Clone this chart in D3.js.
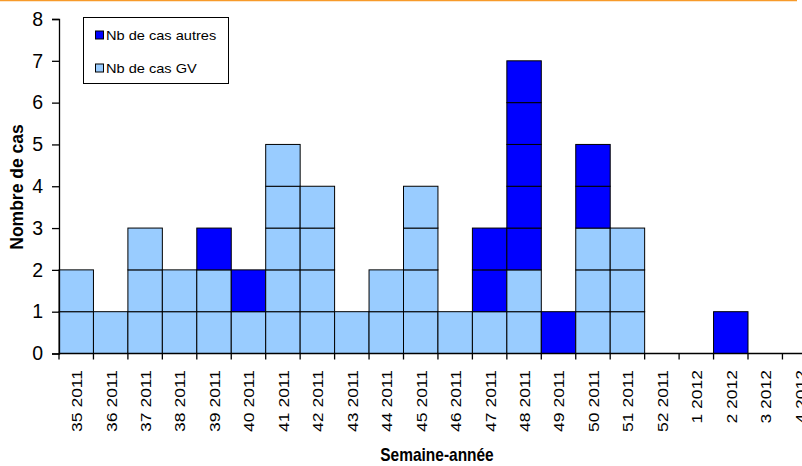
<!DOCTYPE html>
<html><head><meta charset="utf-8">
<script src="https://cdn.jsdelivr.net/npm/d3@7"></script>
<style>body{margin:0;background:#fff}svg{display:block;font-family:Arial,"Liberation Sans",sans-serif}</style>
</head><body><svg id="c" width="802" height="466"></svg>
<script>
const categories = ["35 2011","36 2011","37 2011","38 2011","39 2011","40 2011","41 2011","42 2011","43 2011","44 2011","45 2011","46 2011","47 2011","48 2011","49 2011","50 2011","51 2011","52 2011","1 2012","2 2012","3 2012","4 2012"];
const casGV     = [2,1,3,2,2,1,5,4,1,2,4,1,1,2,0,3,3,0,0,0,0,0];
const casAutres = [0,0,0,0,1,1,0,0,0,0,0,0,2,5,1,2,0,0,0,1,0,0];
const yTicks = [0,1,2,3,4,5,6,7,8];
const seriesNames = ["Nb de cas autres","Nb de cas GV"];
const colors = {autres:"#0000FF", gv:"#99CCFF"};

const svg = d3.select("#c");
const x = d3.scaleBand().domain(categories).range([59, 59 + 22*34.45]).padding(0);
const y = d3.scaleLinear().domain([0,8]).range([353.5, 19]);

// orange top rule
svg.append("line").attr("x1",0).attr("x2",797).attr("y1",0.5).attr("y2",0.5)
  .attr("stroke","#F79A2A").attr("stroke-width",1.5);

// unit blocks
const blocks = [];
categories.forEach((c,i)=>{
  for(let k=0;k<casGV[i];k++) blocks.push({c, k, fill:colors.gv});
  for(let k=0;k<casAutres[i];k++) blocks.push({c, k:casGV[i]+k, fill:colors.autres});
});
svg.append("g").selectAll("rect").data(blocks).join("rect")
  .attr("x", d=>x(d.c)).attr("width", x.bandwidth())
  .attr("y", d=>y(d.k+1)).attr("height", d=>y(d.k)-y(d.k+1))
  .attr("fill", d=>d.fill).attr("stroke","#000").attr("stroke-width",1);

// y axis
const yAxis = svg.append("g").attr("transform","translate(59,0)")
  .call(d3.axisLeft(y).tickValues(yTicks).tickSize(7).tickPadding(9).tickFormat(d3.format("d")));
yAxis.select(".domain").attr("stroke","#000").attr("stroke-width",1.3);
yAxis.selectAll(".tick line").attr("stroke","#000").attr("stroke-width",1.3);
yAxis.selectAll("text").attr("font-size","19.5px").attr("font-family","Arial,'Liberation Sans',sans-serif").attr("fill","#000");

// x axis line and ticks at category boundaries
svg.append("line").attr("x1",59).attr("x2",820).attr("y1",y(0)).attr("y2",y(0))
  .attr("stroke","#000").attr("stroke-width",1.3);
const bounds = categories.map(c=>x(c)).concat([x(categories[categories.length-1])+x.bandwidth()]);
svg.append("g").selectAll("line").data(bounds).join("line")
  .attr("x1",d=>d).attr("x2",d=>d).attr("y1",y(0)).attr("y2",y(0)+6)
  .attr("stroke","#000").attr("stroke-width",1.3);
svg.append("g").selectAll("text").data(categories).join("text")
  .attr("transform", d=>`translate(${x(d)+x.bandwidth()/2+1},370) scale(0.8,1) rotate(-90)`)
  .attr("text-anchor","end").attr("dy","0.35em").attr("font-size","17.5px").attr("fill","#000")
  .text(d=>d);

// axis titles
svg.append("text").attr("transform","translate(437,461) scale(0.86,1)")
  .attr("text-anchor","middle").attr("font-weight","bold").attr("font-size","18px").text("Semaine-année");
svg.append("text").attr("transform","translate(23,187) rotate(-90)")
  .attr("text-anchor","middle").attr("font-weight","bold").attr("font-size","17.5px").text("Nombre de cas");

// legend
const lg = svg.append("g");
lg.append("rect").attr("x",83.5).attr("y",17.5).attr("width",145).attr("height",66)
  .attr("fill","#fff").attr("stroke","#000").attr("stroke-width",1);
const legendItems = [{name:seriesNames[0], fill:colors.autres, yb:39.5},{name:seriesNames[1], fill:colors.gv, yb:72.5}];
legendItems.forEach(it=>{
  lg.append("rect").attr("x",95.5).attr("y",it.yb-8.5).attr("width",8).attr("height",8)
    .attr("fill",it.fill).attr("stroke","#000").attr("stroke-width",1);
  lg.append("text").attr("transform",`translate(106,${it.yb}) scale(1.08,1)`)
    .attr("font-size","13.5px").attr("fill","#000").text(it.name);
});
</script></body></html>
